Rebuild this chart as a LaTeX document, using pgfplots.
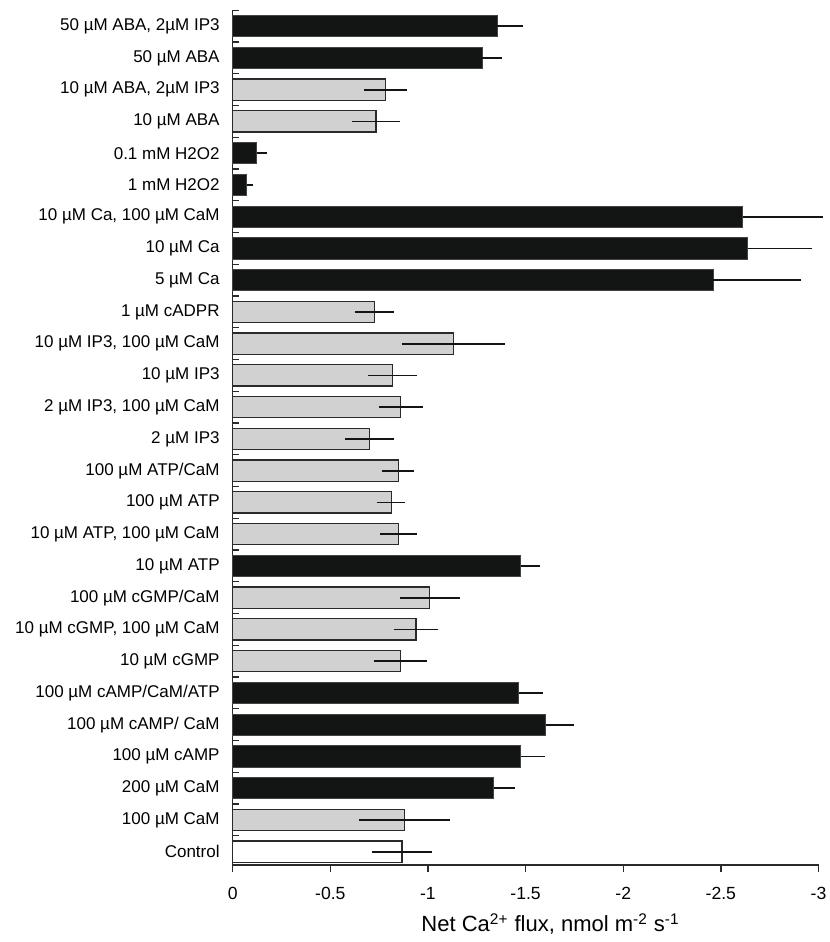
\documentclass[border=0pt]{standalone}
\usepackage{fontspec}
\setmainfont{Liberation Sans}
\usepackage{pgfplots}
\usepackage{pgfplotstable}
\pgfplotsset{compat=1.18}
\definecolor{barblack}{HTML}{131515}
\definecolor{bargray}{HTML}{D1D1D1}
\definecolor{edgegray}{HTML}{2A2A2A}

% c = category position (0 = Control, bottom), v = flux, e = error
\pgfplotstableread{
c v e
2 -1.337 0.110
3 -1.476 0.121
4 -1.603 0.147
5 -1.464 0.123
9 -1.476 0.100
18 -2.462 0.450
19 -2.638 0.330
20 -2.613 0.410
21 -0.072 0.030
22 -0.123 0.053
25 -1.278 0.100
26 -1.356 0.133
}\blackdata
\pgfplotstableread{
c v e
1 -0.879 0.232
6 -0.859 0.135
7 -0.939 0.115
8 -1.010 0.155
10 -0.849 0.093
11 -0.812 0.073
12 -0.849 0.082
13 -0.699 0.125
14 -0.861 0.112
15 -0.818 0.124
16 -1.131 0.264
17 -0.728 0.100
23 -0.734 0.123
24 -0.783 0.110
}\graydata
\pgfplotstableread{
c v e
0 -0.867 0.155
}\whitedata

\begin{document}
\begin{tikzpicture}
\begin{axis}[
  name=ax,
  scale only axis,
  width=292.95pt, height=427.4pt,
  xbar, bar width=10.65pt, bar shift=0pt,
  x dir=reverse,
  xmin=-3, xmax=0,
  ymin=-0.42, ymax=26.5,
  clip=false,
  axis x line*=bottom, axis y line*=left,
  axis line style={line width=0.7pt, draw=edgegray},
  xtick={0,-0.5,-1,-1.5,-2,-2.5,-3},
  xticklabels={0,-0.5,-1,-1.5,-2,-2.5,-3},
  xtick align=outside,
  major tick length=3.5pt,
  minor tick length=3.2pt,
  ytick={0,...,26},
  yticklabels={Control,
    100 µM CaM,
    200 µM CaM,
    100 µM cAMP,
    100 µM cAMP/ CaM,
    100 µM cAMP/CaM/ATP,
    10 µM cGMP,
    {10 µM cGMP, 100 µM CaM},
    100 µM cGMP/CaM,
    10 µM ATP,
    {10 µM ATP, 100 µM CaM},
    100 µM ATP,
    100 µM ATP/CaM,
    2 µM IP3,
    {2 µM IP3, 100 µM CaM},
    10 µM IP3,
    {10 µM IP3, 100 µM CaM},
    1 µM cADPR,
    5 µM Ca,
    10 µM Ca,
    {10 µM Ca, 100 µM CaM},
    1 mM H2O2,
    0.1 mM H2O2,
    10 µM ABA,
    {10 µM ABA, 2µM IP3},
    50 µM ABA,
    {50 µM ABA, 2µM IP3}},
  minor ytick={0.5,1.5,...,26.5},
  ytick align=inside,
  major y tick style={draw=none},
  tick style={edgegray, line width=0.7pt},
  yticklabel style={font=\fontsize{8.5}{10}\selectfont, xshift=-3pt},
  xticklabel style={font=\fontsize{8.8}{10}\selectfont, yshift=-4pt},
  xlabel={Net Ca\textsuperscript{2+} flux, nmol m\textsuperscript{-2} s\textsuperscript{-1}},
  xlabel style={font=\fontsize{11}{13}\selectfont, xshift=12.5pt},
  error bars/x explicit,
  error bars/error mark=none,
  error bars/error bar style={line width=0.85pt, barblack},
]
\addplot[fill=barblack, draw=barblack!80!white, line width=0.5pt,
  error bars/x dir=minus]
  table[x=v, y=c, x error=e] {\blackdata};
\addplot[fill=bargray, draw=edgegray, line width=0.6pt,
  error bars/x dir=both]
  table[x=v, y=c, x error=e] {\graydata};
\addplot[fill=white, draw=edgegray, line width=0.6pt,
  error bars/x dir=both]
  table[x=v, y=c, x error=e] {\whitedata};
\end{axis}
\pgfresetboundingbox
\path ([shift={(-116.35pt,-38.5pt)}]ax.south west) rectangle ([shift={(5.7pt,5.15pt)}]ax.north east);
\end{tikzpicture}
\end{document}
